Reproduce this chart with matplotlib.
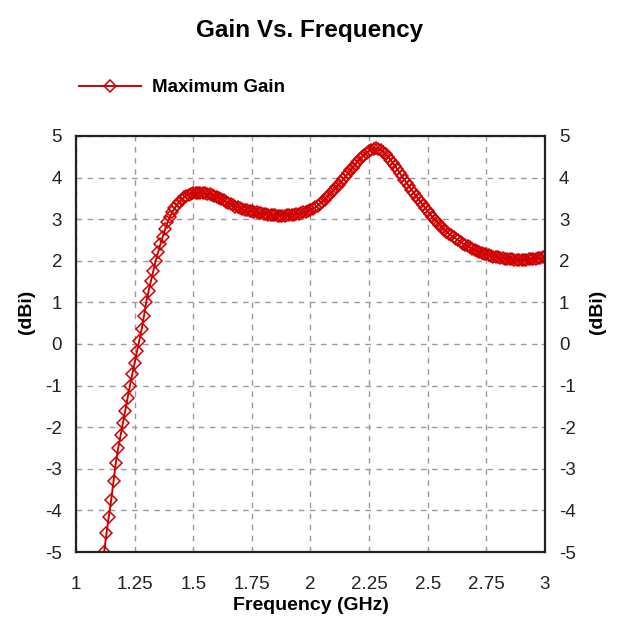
import numpy as np
import matplotlib
matplotlib.use("Agg")
from matplotlib import pyplot as plt

# Maximum gain of the antenna, sampled every 0.01 GHz from 1.12 GHz up to 3.00 GHz
gain_dbi = [
    -5.00, -4.55, -4.15, -3.75, -3.30, -2.85, -2.50, -2.20, -1.90, -1.60,
    -1.30, -1.00, -0.72, -0.45, -0.18, 0.08, 0.36, 0.68, 1.02, 1.28,
    1.52, 1.76, 2.00, 2.20, 2.40, 2.58, 2.76, 2.92, 3.05, 3.16,
    3.26, 3.34, 3.41, 3.47, 3.52, 3.56, 3.59, 3.61, 3.62, 3.63,
    3.63, 3.63, 3.63, 3.62, 3.61, 3.60, 3.58, 3.56, 3.54, 3.51,
    3.48, 3.45, 3.42, 3.39, 3.36, 3.33, 3.30, 3.28, 3.26, 3.24,
    3.22, 3.21, 3.20, 3.19, 3.17, 3.16, 3.15, 3.14, 3.13, 3.12,
    3.11, 3.10, 3.09, 3.09, 3.08, 3.08, 3.08, 3.08, 3.09, 3.09,
    3.10, 3.11, 3.12, 3.13, 3.14, 3.16, 3.18, 3.20, 3.22, 3.25,
    3.28, 3.32, 3.37, 3.42, 3.47, 3.53, 3.59, 3.65, 3.71, 3.77,
    3.83, 3.89, 3.96, 4.03, 4.10, 4.17, 4.24, 4.31, 4.38, 4.44,
    4.50, 4.55, 4.60, 4.64, 4.67, 4.69, 4.70, 4.69, 4.66, 4.62,
    4.56, 4.50, 4.43, 4.36, 4.28, 4.20, 4.11, 4.03, 3.95, 3.87,
    3.79, 3.71, 3.63, 3.56, 3.48, 3.41, 3.33, 3.26, 3.19, 3.12,
    3.05, 2.99, 2.93, 2.87, 2.81, 2.75, 2.70, 2.65, 2.61, 2.57,
    2.53, 2.49, 2.45, 2.41, 2.38, 2.35, 2.32, 2.29, 2.26, 2.24,
    2.21, 2.19, 2.17, 2.15, 2.13, 2.12, 2.10, 2.09, 2.08, 2.07,
    2.06, 2.05, 2.04, 2.03, 2.03, 2.02, 2.02, 2.02, 2.02, 2.02,
    2.02, 2.03, 2.03, 2.04, 2.05, 2.06, 2.07, 2.08, 2.09,
]
freq_ghz = np.linspace(1.12, 3.00, len(gain_dbi))

x_ticks = [1, 1.25, 1.5, 1.75, 2, 2.25, 2.5, 2.75, 3]
x_tick_labels = ["1", "1.25", "1.5", "1.75", "2", "2.25", "2.5", "2.75", "3"]
y_ticks = list(range(-5, 6))

plt.rcParams["font.family"] = ["Liberation Sans", "DejaVu Sans"]
plt.rcParams["axes.unicode_minus"] = False

fig = plt.figure(figsize=(6.2, 6.3), dpi=100)
ax = fig.add_axes([0.1226, 0.1238, 0.7564, 0.6605])

red = "#d00000"
ax.plot(freq_ghz, gain_dbi, color=red, lw=1.4, marker="D", markersize=6,
        markerfacecolor="none", markeredgecolor=red, markeredgewidth=1.1,
        label="Maximum Gain")

ax.set_xlim(1, 3)
ax.set_ylim(-5, 5)
ax.set_xticks(x_ticks)
ax.set_xticklabels(x_tick_labels)
ax.set_yticks(y_ticks)
ax.grid(True, color="#9a9a9a", linestyle=(0, (4, 4)), linewidth=1.0)

# ticks on both sides, labels repeated on the right
ax.tick_params(axis="both", labelsize=13.5, length=3, direction="in",
               color="#9a9a9a", colors="#222222")
ax.tick_params(axis="x", pad=17)
ax.tick_params(axis="y", pad=10, right=True, labelright=True)
for side in ["left", "right", "top", "bottom"]:
    ax.spines[side].set_linewidth(1.6)
    ax.spines[side].set_color("#222222")

ax.set_xlabel("Frequency (GHz)", fontsize=14, fontweight="bold", labelpad=3)
fig.text(0.043, 0.505, "(dBi)", rotation=90, fontsize=14, fontweight="bold",
         ha="center", va="center")
fig.text(0.963, 0.505, "(dBi)", rotation=90, fontsize=14, fontweight="bold",
         ha="center", va="center")

fig.text(0.5, 0.952, "Gain Vs. Frequency", fontsize=17.5, fontweight="bold",
         ha="center", va="center")

ax.legend(loc="center left", bbox_to_anchor=(0.10, 0.861),
          bbox_transform=fig.transFigure, frameon=False, numpoints=1,
          handlelength=3.3, handletextpad=0.6,
          prop={"size": 13.5, "weight": "bold"})

fig.savefig("out.png", dpi=100, facecolor="white")
